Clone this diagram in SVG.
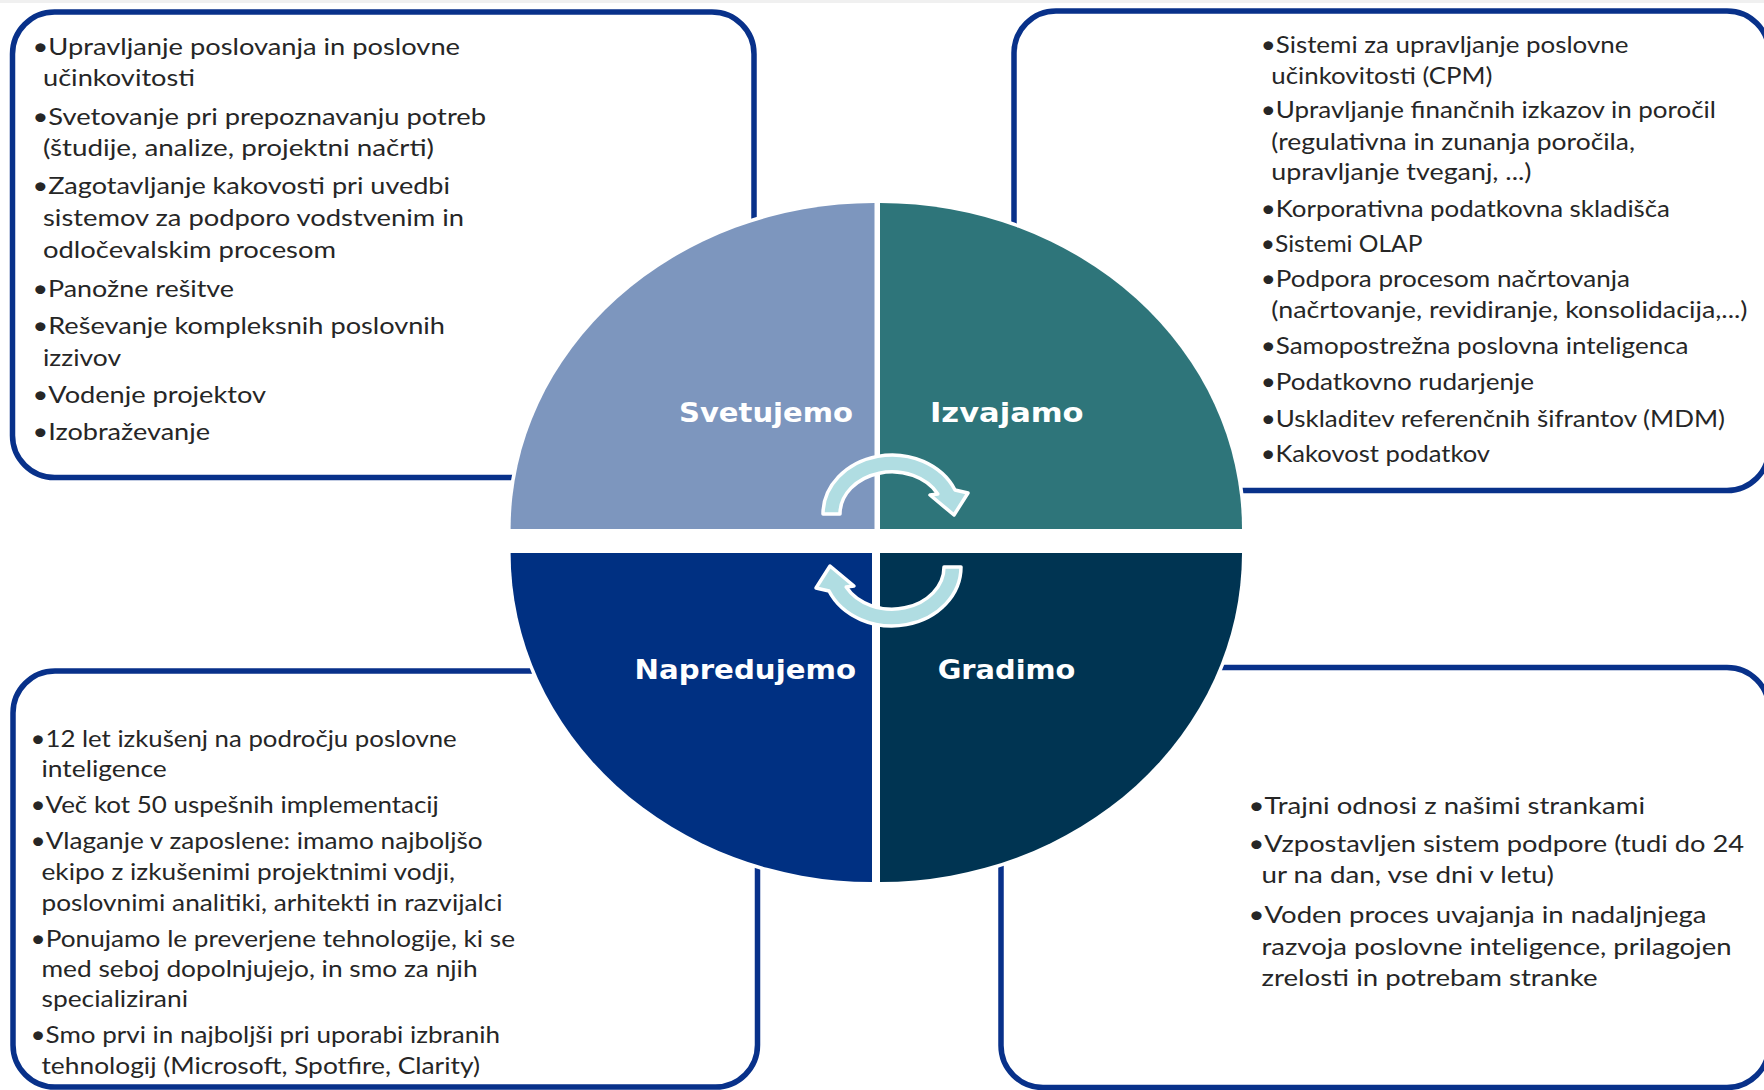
<svg xmlns="http://www.w3.org/2000/svg" xmlns:xlink="http://www.w3.org/1999/xlink" width="1764" height="1090" viewBox="0 0 1764 1090">
<style>
.box{fill:none;stroke:#08318A;stroke-width:5.5}
.q{stroke:#fff;stroke-width:7;paint-order:stroke;stroke-linejoin:miter}
.t{font-family:Lato,'Liberation Sans',sans-serif;fill:#262626;font-size:23px}
.t2{font-size:22.5px}
.lbl{font-family:'DejaVu Sans',Verdana,sans-serif;font-weight:bold;font-size:27px;fill:#fff}
.arr{fill:#B0DDE2;stroke:#fff;stroke-width:3.5;stroke-linejoin:round}
</style>
<defs>
<path id="cyc" class="arr" d="M 823,514 A 69,59 0 0 1 955,490 L 968,493 L 954,515 L 930,495 L 937.8,494 A 52,42 0 0 0 840,514 Z"/>
</defs>
<rect x="0" y="0" width="1764" height="1090" fill="#fff"/>
<rect x="0" y="0" width="1764" height="3" fill="#F0F0F0"/>

<g id="box-svetujemo">
<rect class="box" x="12.5" y="12" width="741.5" height="465.5" rx="42"/>
<text class="t" x="32.5" y="54.5" textLength="427.5" lengthAdjust="spacingAndGlyphs">•Upravljanje poslovanja in poslovne</text>
<text class="t" x="43" y="86" textLength="152" lengthAdjust="spacingAndGlyphs">učinkovitosti</text>
<text class="t" x="32.5" y="125" textLength="453.5" lengthAdjust="spacingAndGlyphs">•Svetovanje pri prepoznavanju potreb</text>
<text class="t" x="43" y="156" textLength="391" lengthAdjust="spacingAndGlyphs">(študije, analize, projektni načrti)</text>
<text class="t" x="32.5" y="194" textLength="417.5" lengthAdjust="spacingAndGlyphs">•Zagotavljanje kakovosti pri uvedbi</text>
<text class="t" x="43" y="226" textLength="421" lengthAdjust="spacingAndGlyphs">sistemov za podporo vodstvenim in</text>
<text class="t" x="43" y="258" textLength="293" lengthAdjust="spacingAndGlyphs">odločevalskim procesom</text>
<text class="t" x="32.5" y="296.5" textLength="201.5" lengthAdjust="spacingAndGlyphs">•Panožne rešitve</text>
<text class="t" x="32.5" y="333.5" textLength="412.5" lengthAdjust="spacingAndGlyphs">•Reševanje kompleksnih poslovnih</text>
<text class="t" x="43" y="365.5" textLength="78" lengthAdjust="spacingAndGlyphs">izzivov</text>
<text class="t" x="32.5" y="403" textLength="233.5" lengthAdjust="spacingAndGlyphs">•Vodenje projektov</text>
<text class="t" x="32.5" y="440" textLength="177.5" lengthAdjust="spacingAndGlyphs">•Izobraževanje</text>
</g>

<g id="box-izvajamo">
<rect class="box" x="1014" y="11" width="755" height="479.5" rx="42"/>
<text class="t t2" x="1260.7" y="53.3" textLength="367.8" lengthAdjust="spacingAndGlyphs">•Sistemi za upravljanje poslovne</text>
<text class="t t2" x="1271.3" y="83.5" textLength="221.2" lengthAdjust="spacingAndGlyphs">učinkovitosti (CPM)</text>
<text class="t t2" x="1260.7" y="118.3" textLength="455.3" lengthAdjust="spacingAndGlyphs">•Upravljanje finančnih izkazov in poročil</text>
<text class="t t2" x="1271.3" y="150" textLength="363.7" lengthAdjust="spacingAndGlyphs">(regulativna in zunanja poročila,</text>
<text class="t t2" x="1271.3" y="180" textLength="260.2" lengthAdjust="spacingAndGlyphs">upravljanje tveganj, ...)</text>
<text class="t t2" x="1260.7" y="216.7" textLength="409.3" lengthAdjust="spacingAndGlyphs">•Korporativna podatkovna skladišča</text>
<text class="t t2" x="1260.7" y="252.3" textLength="161.8" lengthAdjust="spacingAndGlyphs">•Sistemi OLAP</text>
<text class="t t2" x="1260.7" y="287.3" textLength="369.3" lengthAdjust="spacingAndGlyphs">•Podpora procesom načrtovanja</text>
<text class="t t2" x="1271.3" y="318.3" textLength="476.2" lengthAdjust="spacingAndGlyphs">(načrtovanje, revidiranje, konsolidacija,...)</text>
<text class="t t2" x="1260.7" y="354" textLength="427.8" lengthAdjust="spacingAndGlyphs">•Samopostrežna poslovna inteligenca</text>
<text class="t t2" x="1260.7" y="390" textLength="273.3" lengthAdjust="spacingAndGlyphs">•Podatkovno rudarjenje</text>
<text class="t t2" x="1260.7" y="426.7" textLength="464.3" lengthAdjust="spacingAndGlyphs">•Uskladitev referenčnih šifrantov (MDM)</text>
<text class="t t2" x="1260.7" y="461.7" textLength="229.3" lengthAdjust="spacingAndGlyphs">•Kakovost podatkov</text>
</g>

<g id="box-napredujemo">
<rect class="box" x="13" y="671" width="744.5" height="416" rx="42"/>
<text class="t t2" x="30.5" y="746.7" textLength="426.2" lengthAdjust="spacingAndGlyphs">•12 let izkušenj na področju poslovne</text>
<text class="t t2" x="41.5" y="776.7" textLength="125.2" lengthAdjust="spacingAndGlyphs">inteligence</text>
<text class="t t2" x="30.5" y="812.7" textLength="408.3" lengthAdjust="spacingAndGlyphs">•Več kot 50 uspešnih implementacij</text>
<text class="t t2" x="30.5" y="849.3" textLength="452.1" lengthAdjust="spacingAndGlyphs">•Vlaganje v zaposlene: imamo najboljšo</text>
<text class="t t2" x="41.5" y="880" textLength="413.5" lengthAdjust="spacingAndGlyphs">ekipo z izkušenimi projektnimi vodji,</text>
<text class="t t2" x="41.5" y="910.7" textLength="461" lengthAdjust="spacingAndGlyphs">poslovnimi analitiki, arhitekti in razvijalci</text>
<text class="t t2" x="30.5" y="946.7" textLength="484.5" lengthAdjust="spacingAndGlyphs">•Ponujamo le preverjene tehnologije, ki se</text>
<text class="t t2" x="41.5" y="976.7" textLength="436.1" lengthAdjust="spacingAndGlyphs">med seboj dopolnjujejo, in smo za njih</text>
<text class="t t2" x="41.5" y="1007.3" textLength="146.5" lengthAdjust="spacingAndGlyphs">specializirani</text>
<text class="t t2" x="30.5" y="1043.3" textLength="469.5" lengthAdjust="spacingAndGlyphs">•Smo prvi in najboljši pri uporabi izbranih</text>
<text class="t t2" x="41.5" y="1074" textLength="438.5" lengthAdjust="spacingAndGlyphs">tehnologij (Microsoft, Spotfire, Clarity)</text>
</g>

<g id="box-gradimo">
<rect class="box" x="1001" y="667.5" width="768" height="420" rx="42"/>
<text class="t" x="1248.5" y="814.3" textLength="396.5" lengthAdjust="spacingAndGlyphs">•Trajni odnosi z našimi strankami</text>
<text class="t" x="1248.5" y="851.7" textLength="495.5" lengthAdjust="spacingAndGlyphs">•Vzpostavljen sistem podpore (tudi do 24</text>
<text class="t" x="1261.5" y="883.3" textLength="292.5" lengthAdjust="spacingAndGlyphs">ur na dan, vse dni v letu)</text>
<text class="t" x="1248.5" y="923.3" textLength="458" lengthAdjust="spacingAndGlyphs">•Voden proces uvajanja in nadaljnjega</text>
<text class="t" x="1261.5" y="955" textLength="470" lengthAdjust="spacingAndGlyphs">razvoja poslovne inteligence, prilagojen</text>
<text class="t" x="1261.5" y="986" textLength="336" lengthAdjust="spacingAndGlyphs">zrelosti in potrebam stranke</text>
</g>

<g id="q-svetujemo">
<path class="q" fill="#7D96BE" d="M 874.5,529 L 510.6,529 A 363.9,326 0 0 1 874.5,203 Z"/>
<text class="lbl" x="679" y="422" textLength="174" lengthAdjust="spacingAndGlyphs">Svetujemo</text>
</g>
<g id="q-izvajamo">
<path class="q" fill="#2E757A" d="M 880,529 L 880,203 A 362,326 0 0 1 1242,529 Z"/>
<text class="lbl" x="930" y="422" textLength="153.6" lengthAdjust="spacingAndGlyphs">Izvajamo</text>
</g>
<g id="q-napredujemo">
<path class="q" fill="#003082" d="M 872,553 L 872,882 A 361.4,329 0 0 1 510.6,553 Z"/>
<text class="lbl" x="634.6" y="679" textLength="221.4" lengthAdjust="spacingAndGlyphs">Napredujemo</text>
</g>
<g id="q-gradimo">
<path class="q" fill="#003452" d="M 880,553 L 1242,553 A 362,329 0 0 1 880,882 Z"/>
<text class="lbl" x="937.7" y="679" textLength="137.7" lengthAdjust="spacingAndGlyphs">Gradimo</text>
</g>

<g id="connectors">
<use xlink:href="#cyc" href="#cyc"/>
<use xlink:href="#cyc" href="#cyc" transform="rotate(180 892 540.5)"/>
</g>
</svg>
